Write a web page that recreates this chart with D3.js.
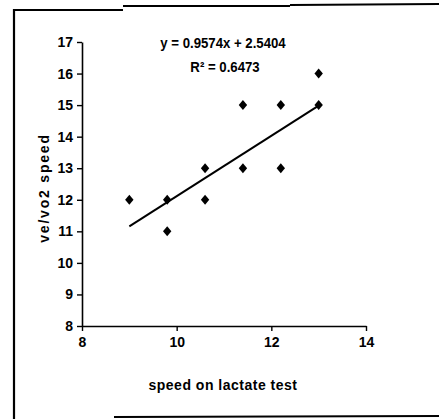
<!DOCTYPE html>
<html>
<head>
<meta charset="utf-8">
<script src="https://cdn.jsdelivr.net/npm/d3@7"></script>
<style>
  html, body { margin: 0; padding: 0; background: #fff; }
  svg { display: block; }
  text { font-family: "Liberation Sans", Arial, sans-serif; fill: #000; }
</style>
</head>
<body>
<svg id="chart" width="439" height="419"></svg>
<script>
// lactate-test speed vs ve/vo2 speed
const speedLactate = [9, 9.8, 9.8, 10.6, 10.6, 11.4, 11.4, 12.2, 12.2, 13, 13];
const speedVeVo2   = [12, 12, 11, 13, 12, 13, 15, 13, 15, 16, 15];
const xTicks = [8, 10, 12, 14];
const yTicks = [8, 9, 10, 11, 12, 13, 14, 15, 16, 17];
const trendSlope = 0.9574;
const trendIntercept = 2.5404;
const rSquared = 0.6473;

const svg = d3.select("#chart");

const x = d3.scaleLinear().domain([8, 14]).range([82, 366]);
const y = d3.scaleLinear().domain([8, 17]).range([326, 42]);

// outer frame
const frame = svg.append("g").attr("fill", "none").attr("stroke", "#000");
frame.append("path").attr("d", "M14,9 L14,419").attr("stroke-width", 2.2);
frame.append("path").attr("d", "M13,10 L123,10 M123,6 L290,6 M290,5 L439,4").attr("stroke-width", 1.8);
frame.append("path").attr("d", "M114,417 L439,416").attr("stroke-width", 1.8);

// axes
const yAxis = svg.append("g")
  .attr("transform", `translate(${x(8)},0)`)
  .call(d3.axisLeft(y).tickValues(yTicks).tickSize(5).tickSizeOuter(0).tickPadding(4).tickFormat(d3.format("d")));
const xAxis = svg.append("g")
  .attr("transform", `translate(0,${y(8)})`)
  .call(d3.axisBottom(x).tickValues(xTicks).tickSize(5).tickSizeOuter(0).tickPadding(6).tickFormat(d3.format("d")));

[yAxis, xAxis].forEach(g => {
  g.select(".domain").attr("stroke", "#000").attr("stroke-width", 1.6);
  g.selectAll(".tick line").attr("stroke", "#000").attr("stroke-width", 1.4);
  g.selectAll(".tick text")
    .attr("fill", "#000")
    .style("font-family", '"Liberation Sans", Arial, sans-serif')
    .style("font-size", "14px")
    .style("font-weight", "bold");
});

// trendline
svg.append("line")
  .attr("x1", x(9)).attr("y1", y(trendSlope * 9 + trendIntercept))
  .attr("x2", x(13)).attr("y2", y(trendSlope * 13 + trendIntercept))
  .attr("stroke", "#000").attr("stroke-width", 2);

// points
const pts = speedLactate.map((v, i) => ({ x: v, y: speedVeVo2[i] }));
svg.append("g").selectAll("path")
  .data(pts)
  .join("path")
  .attr("transform", d => `translate(${x(d.x)},${y(d.y)})`)
  .attr("d", "M0,-5 L4.2,0 L0,5 L-4.2,0 Z")
  .attr("fill", "#000");

// equation, set in a slightly condensed face
svg.append("text")
  .attr("transform", "translate(223,48) scale(0.88,1)")
  .attr("text-anchor", "middle")
  .style("font-size", "15px").style("font-weight", "bold")
  .text(`y = ${trendSlope}x + ${trendIntercept}`);
svg.append("text")
  .attr("transform", "translate(225,72) scale(0.88,1)")
  .attr("text-anchor", "middle")
  .style("font-size", "15px").style("font-weight", "bold")
  .text(`R² = ${rSquared}`);

// axis titles
svg.append("text")
  .attr("x", 223).attr("y", 390)
  .attr("text-anchor", "middle")
  .style("font-size", "14px").style("font-weight", "bold").style("letter-spacing", "0.5px")
  .text("speed on lactate test");
svg.append("text")
  .attr("transform", "translate(49,188) rotate(-90)")
  .attr("text-anchor", "middle")
  .style("font-size", "14px").style("font-weight", "bold").style("letter-spacing", "1.8px")
  .text("ve/vo2 speed");
</script>
</body>
</html>
